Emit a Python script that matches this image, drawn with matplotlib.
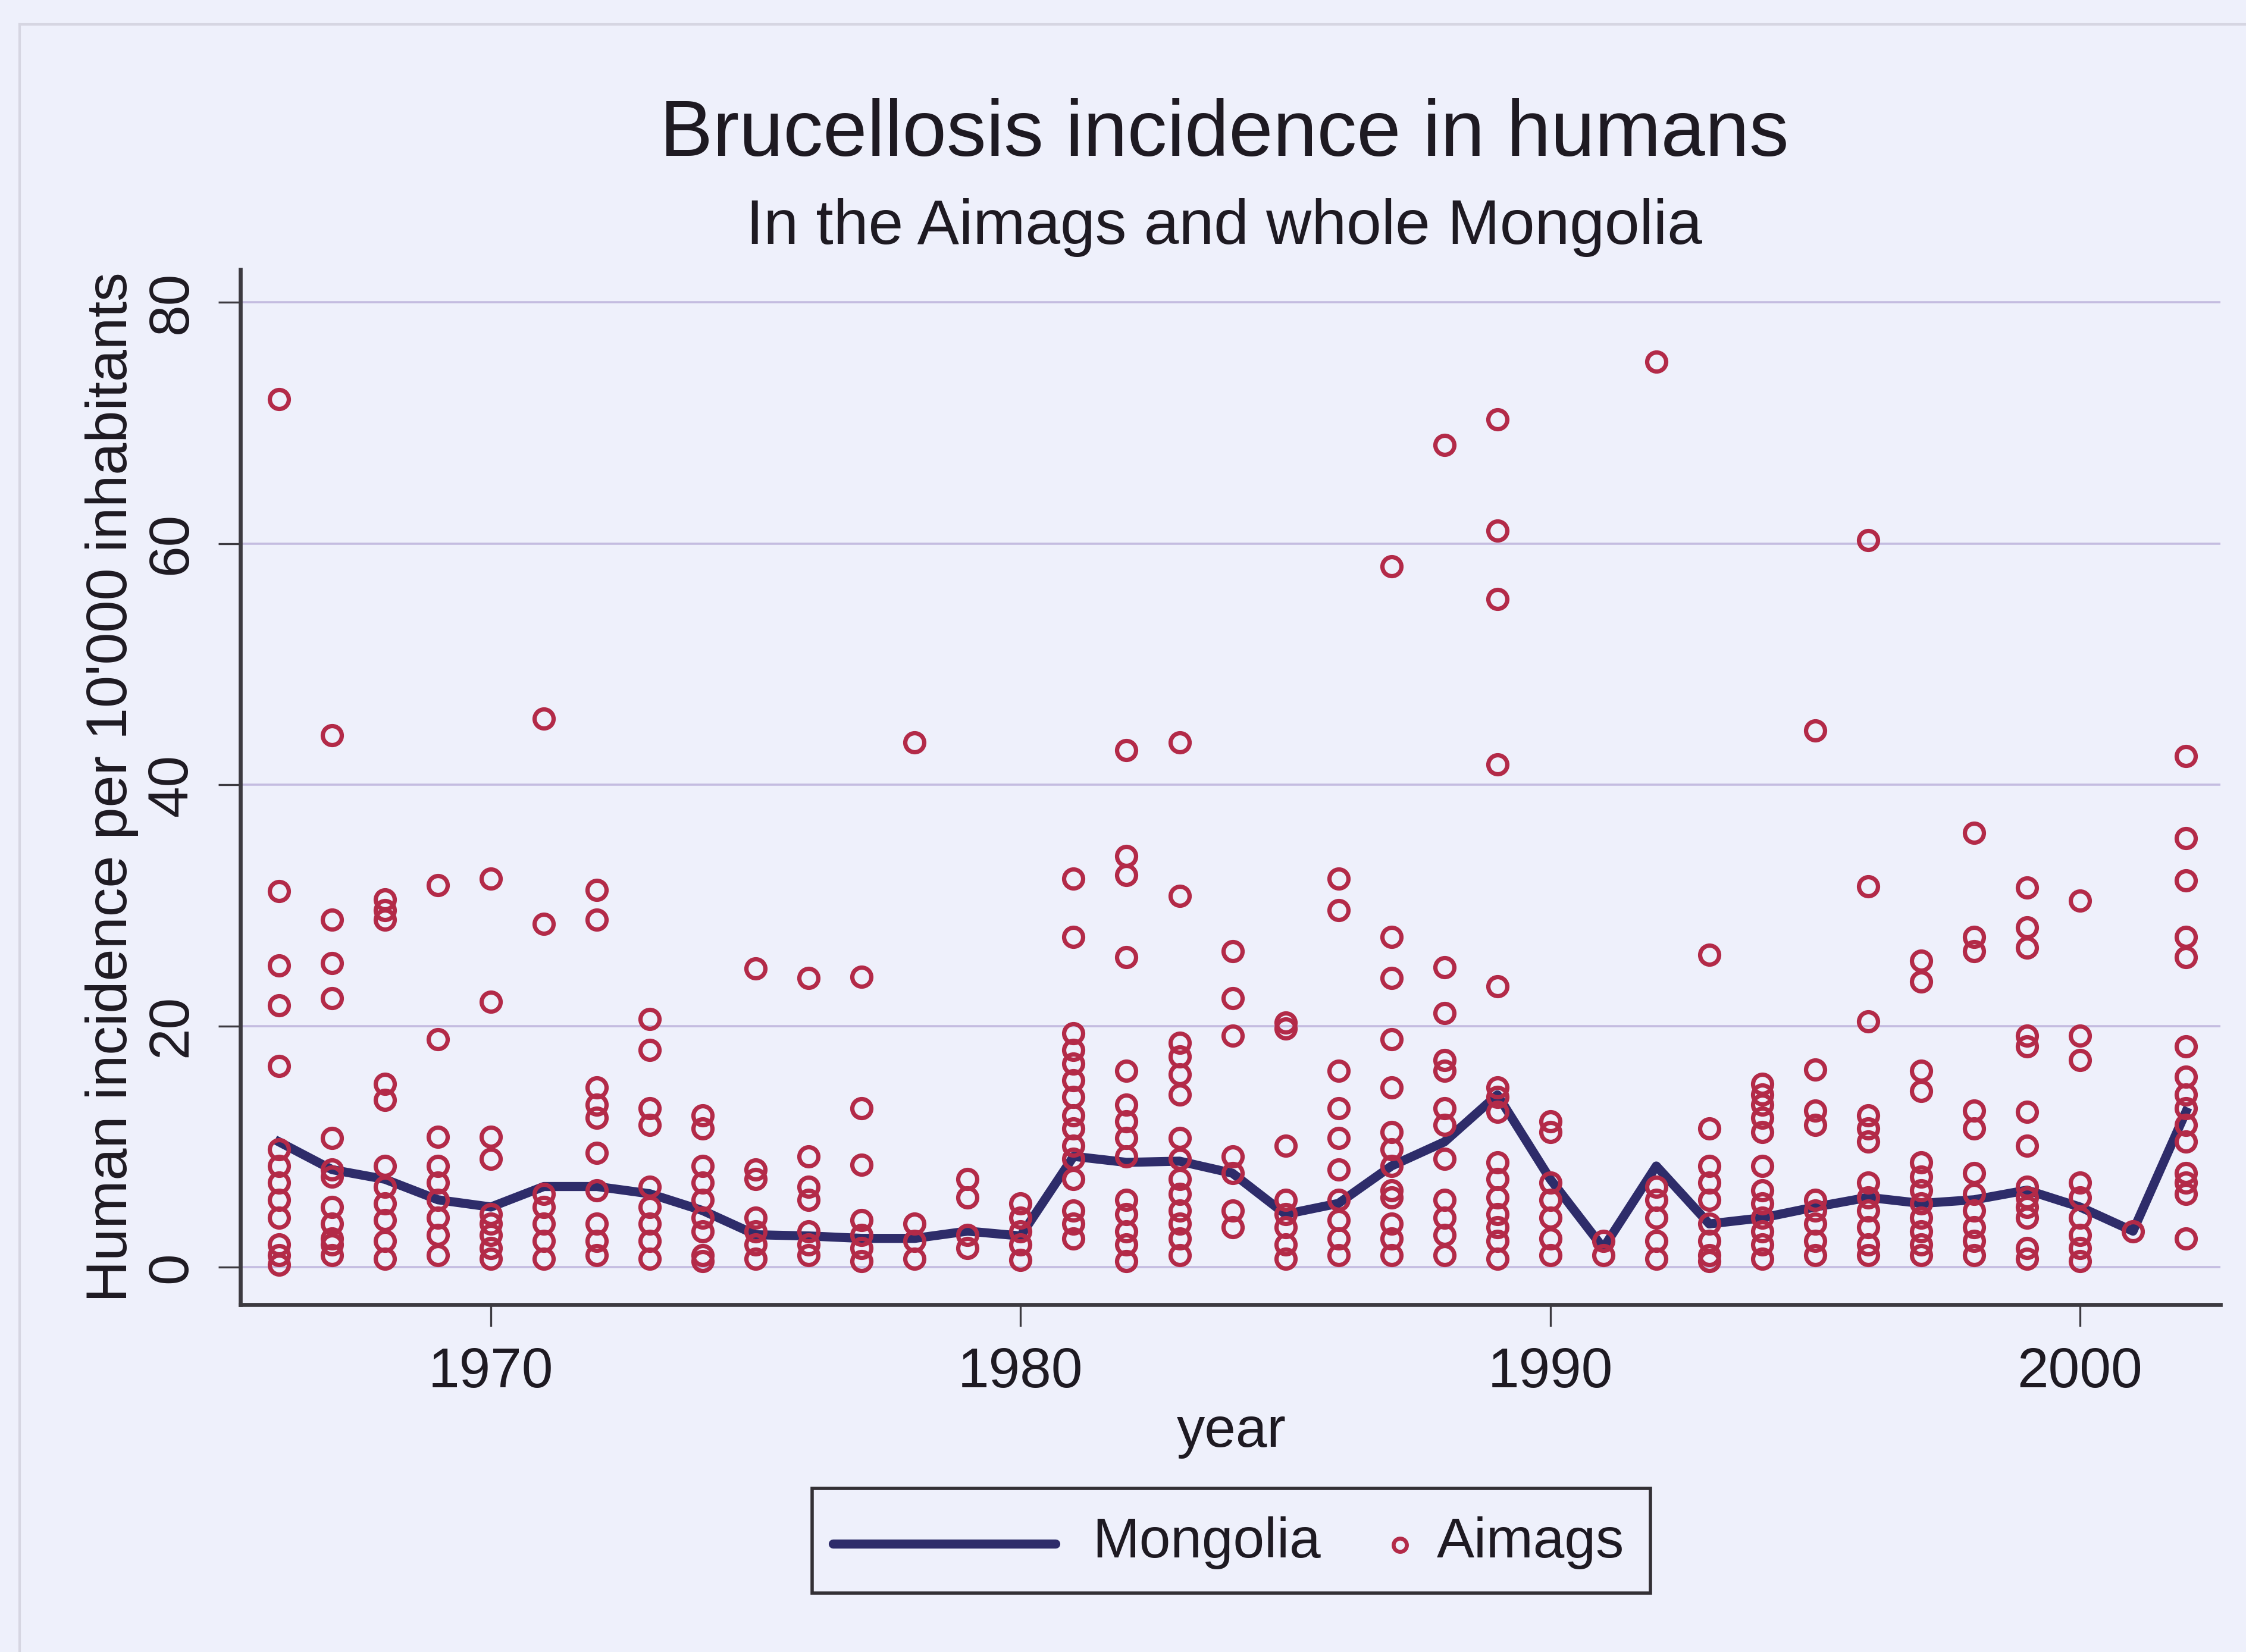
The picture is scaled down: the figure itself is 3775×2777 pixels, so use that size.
import numpy as np
import matplotlib.pyplot as plt
from matplotlib.patches import Rectangle
from matplotlib.lines import Line2D

plt.rcParams["font.family"] = ["Liberation Sans", "DejaVu Sans"]

# years and national incidence (Mongolia)
years = list(range(1966, 2003))
mongolia = [10.4, 8.1, 7.3, 5.6, 5.0, 6.7, 6.7, 6.1, 4.7, 2.7,
            2.6, 2.4, 2.4, 3.0, 2.6, 9.2, 8.7, 8.8, 7.8, 4.4,
            5.3, 8.4, 10.4, 14.3, 7.3, 1.6, 8.4, 3.6, 4.1, 5.0,
            5.8, 5.3, 5.6, 6.4, 5.0, 3.0, 12.9]

# incidence per aimag, one list per year (same order as years)
aimags = [
    [72.0, 31.2, 25.0, 21.7, 16.7, 9.8, 8.4, 7.0, 5.6, 4.1, 1.9, 1.0, 0.2],   # 1966
    [44.1, 28.8, 25.2, 22.3, 10.7, 8.1, 7.5, 5.0, 3.6, 2.4, 1.9, 1.0],        # 1967
    [30.5, 29.6, 28.8, 15.2, 13.9, 8.4, 6.7, 5.3, 3.9, 2.2, 0.7],             # 1968
    [31.7, 18.9, 10.8, 8.4, 7.0, 5.6, 4.1, 2.7, 1.0],                         # 1969
    [32.2, 22.0, 10.8, 9.0, 4.4, 3.6, 2.7, 1.6, 0.7],                         # 1970
    [45.5, 28.5, 6.1, 5.0, 3.6, 2.2, 0.7],                                    # 1971
    [31.3, 28.8, 14.9, 13.5, 12.4, 9.5, 6.4, 3.6, 2.2, 1.0],                  # 1972
    [20.6, 18.0, 13.2, 11.8, 6.7, 5.0, 3.6, 2.2, 0.7],                        # 1973
    [12.6, 11.5, 8.4, 7.0, 5.6, 4.1, 3.0, 1.0, 0.5],                          # 1974
    [24.8, 8.1, 7.3, 4.1, 3.0, 1.9, 0.7],                                     # 1975
    [24.0, 9.2, 6.7, 5.6, 3.0, 1.9, 1.0],                                     # 1976
    [24.1, 13.2, 8.5, 3.9, 2.7, 1.6, 0.5],                                    # 1977
    [43.5, 3.6, 2.2, 0.7],                                                    # 1978
    [7.3, 5.8, 2.7, 1.6],                                                     # 1979
    [5.3, 4.1, 3.0, 1.9, 0.6],                                                # 1980
    [32.2, 27.4, 19.4, 18.0, 16.9, 15.5, 14.1, 12.6, 11.5, 10.1, 9.0, 7.3,
     4.7, 3.6, 2.4],                                                          # 1981
    [42.9, 34.1, 32.5, 25.7, 16.3, 13.5, 12.1, 10.7, 9.2, 5.6, 4.4, 3.0,
     1.9, 0.5],                                                               # 1982
    [43.5, 30.8, 18.6, 17.5, 16.0, 14.3, 10.7, 9.0, 7.3, 6.1, 4.7, 3.6,
     2.4, 1.0],                                                               # 1983
    [26.2, 22.3, 19.2, 9.2, 7.8, 4.7, 3.3],                                   # 1984
    [20.3, 19.8, 10.1, 5.6, 4.4, 3.3, 1.9, 0.7],                              # 1985
    [32.2, 29.6, 16.3, 13.2, 10.7, 8.1, 5.6, 3.9, 2.4, 1.0],                  # 1986
    [58.1, 27.4, 24.0, 18.9, 14.9, 11.2, 9.8, 8.4, 6.4, 5.8, 3.6, 2.4, 1.0],  # 1987
    [68.2, 24.9, 21.1, 17.2, 16.3, 13.2, 11.8, 9.0, 5.6, 4.1, 2.7, 1.0],      # 1988
    [70.3, 61.1, 55.4, 41.7, 23.3, 14.9, 14.1, 12.9, 8.7, 7.3, 5.8, 4.4,
     3.3, 2.2, 0.7],                                                          # 1989
    [12.1, 11.2, 7.0, 5.6, 4.1, 2.4, 1.0],                                    # 1990
    [2.2, 1.0],                                                               # 1991
    [75.1, 6.7, 5.6, 4.1, 2.2, 0.7],                                          # 1992
    [25.9, 11.5, 8.4, 7.0, 5.6, 3.6, 2.2, 1.0, 0.5],                          # 1993
    [15.2, 14.3, 13.5, 12.4, 11.2, 8.4, 6.4, 5.3, 4.1, 3.0, 1.9, 0.7],        # 1994
    [44.5, 16.4, 13.0, 11.8, 5.6, 4.7, 3.6, 2.2, 1.0],                        # 1995
    [60.3, 31.6, 20.4, 12.6, 11.5, 10.4, 7.0, 5.8, 4.7, 3.3, 1.9, 1.0],       # 1996
    [25.4, 23.7, 16.3, 14.6, 8.7, 7.5, 6.4, 5.3, 4.1, 3.0, 1.9, 1.0],         # 1997
    [36.0, 27.4, 26.2, 13.0, 11.5, 7.8, 6.1, 4.7, 3.3, 2.2, 1.0],             # 1998
    [31.5, 28.2, 26.5, 19.2, 18.3, 12.9, 10.1, 6.7, 5.8, 5.0, 4.1, 1.6, 0.7], # 1999
    [30.4, 19.2, 17.2, 7.0, 5.8, 4.1, 2.7, 1.6, 0.5],                         # 2000
    [3.0],                                                                    # 2001
    [42.4, 35.6, 32.1, 27.4, 25.7, 18.3, 15.8, 14.3, 13.2, 11.8, 10.4, 7.8,
     7.0, 6.1, 2.4],                                                          # 2002
]

x_ticks = [1970, 1980, 1990, 2000]
y_ticks = [0, 20, 40, 60, 80]

bg = "#eef0fb"
txt = "#1e1a22"
navy = "#2e2c6a"
red = "#b32a48"

W, H = 3775, 2777
fig = plt.figure(figsize=(W / 200, H / 200), dpi=200, facecolor=bg)

def fx(px):
    return px / W

def fy(py):
    return (H - py) / H

ax = fig.add_axes([fx(404), fy(2193), fx(3732) - fx(404), fy(453) - fy(2193)])
ax.set_facecolor(bg)

ax.plot(years, mongolia, color=navy, lw=5.5, zorder=3, solid_joinstyle="round")

ax_x = np.repeat(years, [len(v) for v in aimags])
ax_y = np.concatenate([np.array(v) for v in aimags])
ax.plot(ax_x, ax_y, ls="none", marker="o", ms=11.5, mfc="none", mec=red,
        mew=2.6, zorder=4)

ax.set_xlim(1965.27, 2002.65)
ax.set_ylim(-3.09, 82.73)

for yv in y_ticks:
    ax.axhline(yv, color="#c4bce0", lw=1.3, zorder=1)

for s in ["top", "right"]:
    ax.spines[s].set_visible(False)
for s in ["left", "bottom"]:
    ax.spines[s].set_color("#3c3a40")
    ax.spines[s].set_linewidth(2.4)

ax.set_xticks(x_ticks)
ax.set_yticks(y_ticks)
ax.tick_params(axis="both", length=13.3, width=1.2, color="#3c3a40",
               pad=12, labelsize=34, labelcolor=txt)
for lab in ax.get_yticklabels():
    lab.set_rotation(90)
    lab.set_va("center")

# titles and axis titles
fig.text(fx(2058), fy(262), "Brucellosis incidence in humans", ha="center",
         va="baseline", fontsize=48, color=txt)
fig.text(fx(2058), fy(410), "In the Aimags and whole Mongolia", ha="center",
         va="baseline", fontsize=38, color=txt)
fig.text(fx(188), fy(1323), "Human incidence per 10'000 inhabitants",
         rotation=90, ha="center", va="center", fontsize=35, color=txt)
fig.text(fx(2070), fy(2432), "year", ha="center", va="baseline",
         fontsize=34, color=txt)

# legend box
fig.add_artist(Rectangle((fx(1365), fy(2678)), fx(2774) - fx(1365),
                         fy(2502) - fy(2678), transform=fig.transFigure,
                         facecolor=bg, edgecolor="#333035", lw=2.0))
fig.add_artist(Line2D([fx(1400), fx(1774)], [fy(2595), fy(2595)],
                      transform=fig.transFigure, color=navy, lw=5.5,
                      solid_capstyle="round"))
fig.text(fx(1836), fy(2618), "Mongolia", ha="left", va="baseline",
         fontsize=34, color=txt)
fig.add_artist(Line2D([fx(2353)], [fy(2597)], transform=fig.transFigure,
                      ls="none", marker="o", ms=8, mfc="none", mec=red,
                      mew=2.4))
fig.text(fx(2415), fy(2618), "Aimags", ha="left", va="baseline",
         fontsize=34, color=txt)

# faint outer frame of the scanned graph
fig.add_artist(Line2D([fx(33), fx(33)], [fy(41), 0], transform=fig.transFigure,
                      color="#d6d6e2", lw=1.5))
fig.add_artist(Line2D([fx(33), 1], [fy(41), fy(41)], transform=fig.transFigure,
                      color="#d6d6e2", lw=1.5))

fig.savefig("out.png", dpi=200, facecolor=bg)
